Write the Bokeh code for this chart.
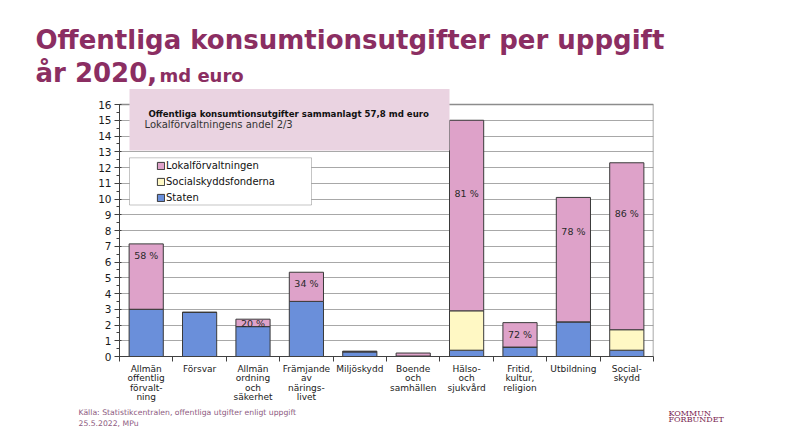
from bokeh.plotting import figure
from bokeh.layouts import column
from bokeh.models import (FactorRange, Range1d, LinearAxis, FixedTicker,
                          SingleIntervalTicker, Label, BoxAnnotation, Legend, LegendItem,
                          ColumnDataSource)
from bokeh.core.properties import value
from bokeh.embed import file_html
from bokeh.resources import INLINE

# ---------------- data ----------------
categories = ["Allmän offentlig förvaltning", "Försvar", "Allmän ordning och säkerhet",
              "Främjande av näringslivet", "Miljöskydd", "Boende och samhällen",
              "Hälso- och sjukvård", "Fritid, kultur, religion", "Utbildning", "Socialskydd"]
tick_labels = ["Allmän\noffentlig\nförvalt-\nning", "Försvar", "Allmän\nordning\noch\nsäkerhet",
               "Främjande\nav\nnärings-\nlivet", "Miljöskydd", "Boende\noch\nsamhällen",
               "Hälso-\noch\nsjukvård", "Fritid,\nkultur,\nreligion", "Utbildning", "Social-\nskydd"]
staten = [3.0, 2.8, 1.9, 3.5, 0.3, 0.03, 0.4, 0.6, 2.2, 0.4]
socialskyddsfonderna = [0.0, 0.0, 0.0, 0.0, 0.0, 0.0, 2.5, 0.0, 0.0, 1.3]
lokalforvaltningen = [4.15, 0.0, 0.47, 1.85, 0.04, 0.19, 12.1, 1.55, 7.9, 10.6]
series_names = ["Staten", "Socialskyddsfonderna", "Lokalförvaltningen"]
pct_index = [0, 2, 3, 6, 7, 8, 9]
pct_texts = ["58 %", "20 %", "34 %", "81 %", "72 %", "78 %", "86 %"]
pct_y = [6.41, 2.07, 4.65, 10.33, 1.37, 7.94, 9.06]

title1 = "Offentliga konsumtionsutgifter per uppgift"
title2a = "år 2020,"
title2b = "md euro"
note1 = "Offentliga konsumtionsutgifter sammanlagt 57,8 md euro"
note2 = "Lokalförvaltningens andel  2/3"
source1 = "Källa: Statistikcentralen,  offentliga utgifter enligt uppgift"
source2 = "25.5.2022, MPu"
logo1 = "KOMMUN"
logo2 = "FÖRBUNDET"

# ---------------- layout ----------------
W = 790
HEAD_H = 88           # header: page y 0..88
FL, FR, FT, FB = 119, 653, 88, 356   # main frame in page px (y=16 at page 104)
MAIN_BOTTOM = 405
FOOT_BOTTOM = 440
PX_PER_UNIT = (356 - 104) / 16.0
C_BLUE = "#6a8fda"
C_YEL = "#fff8c4"
C_PINK = "#dea2c9"
C_TITLE = "#8b2e62"
C_SRC = "#8d5a80"
N = len(categories)

def dx(px):
    return (px - FL) / ((FR - FL) / N)

def dy(py):
    return (FB - py) / PX_PER_UNIT

def mid(baseline, size):
    # vertical centre of a line of text whose baseline lies at page y `baseline`
    return baseline - 0.346 * size

def blank_figure(height, y_top, y_bottom):
    f = figure(width=W, height=height, x_range=Range1d(0, W), y_range=Range1d(y_bottom, y_top),
               output_backend="svg", toolbar_location=None,
               x_axis_location=None, y_axis_location=None, frame_align=False,
               min_border_left=0, min_border_right=0, min_border_top=0, min_border_bottom=0)
    f.grid.grid_line_color = None
    f.outline_line_color = None
    f.background_fill_color = "white"
    f.border_fill_color = "white"
    return f

# ---------------- header ----------------
head = blank_figure(HEAD_H, 0, HEAD_H)
head.add_layout(Label(x=35, y=mid(48, 26), text=title1, text_font="DejaVu Sans",
                      text_font_style="bold", text_font_size="26px", text_color=C_TITLE,
                      text_baseline="middle"))
head.add_layout(Label(x=35, y=mid(81, 26), text=title2a, text_font="DejaVu Sans",
                      text_font_style="bold", text_font_size="26px", text_color=C_TITLE,
                      text_baseline="middle"))
head.add_layout(Label(x=159, y=mid(81, 18), text=title2b, text_font="DejaVu Sans",
                      text_font_style="bold", text_font_size="18px", text_color=C_TITLE,
                      text_baseline="middle"))

# ---------------- main chart ----------------
p = figure(x_range=FactorRange(*categories), y_range=Range1d(0, dy(FT)),
           width=W, height=MAIN_BOTTOM - HEAD_H, output_backend="svg", toolbar_location=None,
           x_axis_location=None, y_axis_location="left", frame_align=False,
           min_border_left=FL, min_border_right=W - FR,
           min_border_top=0, min_border_bottom=MAIN_BOTTOM - FB)
p.background_fill_color = "white"
p.border_fill_color = "white"
p.outline_line_color = None
p.xgrid.grid_line_color = None
p.ygrid.grid_line_color = "#a8a8a8"
p.ygrid.ticker = FixedTicker(ticks=list(range(1, 17)))

yax = p.yaxis[0]
yax.bounds = (0, 16)
yax.ticker = SingleIntervalTicker(interval=1, num_minor_ticks=2)
yax.axis_line_color = "#404040"
yax.major_tick_line_color = "#404040"
yax.minor_tick_line_color = "#404040"
yax.major_tick_out = 5
yax.major_tick_in = 2
yax.minor_tick_out = 3
yax.minor_tick_in = 0
yax.major_label_text_font = "DejaVu Sans"
yax.major_label_text_font_size = "10.5px"
yax.major_label_text_color = "#1a1a1a"
yax.major_label_standoff = 3

# category axis: labels at bar centres, tick marks at category boundaries
centers = [i + 0.5 for i in range(N)]
xax = LinearAxis(ticker=FixedTicker(ticks=centers, minor_ticks=list(range(N + 1))))
xax.major_label_overrides = {c: t for c, t in zip(centers, tick_labels)}
xax.axis_line_color = "#404040"
xax.major_tick_line_color = None
xax.minor_tick_line_color = "#404040"
xax.minor_tick_out = 5
xax.minor_tick_in = 0
xax.major_tick_out = 5
xax.major_tick_in = 0
xax.major_label_text_font = "DejaVu Sans"
xax.major_label_text_font_size = "9px"
xax.major_label_text_color = "#1a1a1a"
xax.major_label_text_line_height = 0.95
xax.major_label_standoff = 2
xax.major_label_orientation = "horizontal"
p.add_layout(xax, "below")

# plot-area top and right border lines
p.segment(x0=[0, N], y0=[16, 0], x1=[N, N], y1=[16, 16], line_color="#8c8c8c", line_width=1.5)

src = ColumnDataSource(dict(x=categories, Staten=staten,
                            Socialskyddsfonderna=socialskyddsfonderna,
                            Lokalförvaltningen=lokalforvaltningen))
rs = p.vbar_stack(series_names, x="x", width=0.64, source=src,
                  color=[C_BLUE, C_YEL, C_PINK], line_color="#3a3a3a", line_width=1)

# percentage labels
p.text(x=[categories[i] for i in pct_index], y=pct_y, text=pct_texts, text_align="center",
       text_baseline="middle", text_font=value("DejaVu Sans"),
       text_font_size="9.5px", text_color="#2a2a2a")

# pink note box
note_box = BoxAnnotation(left=dx(129), right=dx(449), top=dy(88.5), bottom=dy(150),
                         fill_color="#ead3e1", fill_alpha=1.0, line_color=None, level="overlay")
p.add_layout(note_box)
p.add_layout(Label(x=dx(148), y=dy(mid(116.5, 8.6)), text=note1, text_font="DejaVu Sans",
                   text_font_style="bold", text_font_size="8.6px", text_color="#111111",
                   text_baseline="middle", level="overlay"))
p.add_layout(Label(x=dx(144), y=dy(mid(127.5, 10)), text=note2, text_font="DejaVu Sans",
                   text_font_size="10px", text_color="#333333",
                   text_baseline="middle", level="overlay"))

# legend box + legend
leg_box = BoxAnnotation(left=dx(129), right=dx(311), top=dy(157.3), bottom=dy(204.5),
                        fill_color="white", fill_alpha=1.0, line_color="#404040",
                        line_width=1, level="overlay")
p.add_layout(leg_box)
legend = Legend(items=[LegendItem(label=series_names[i], renderers=[rs[i]]) for i in (2, 1, 0)],
                location=(156 - FL, FB - 205), padding=0, margin=0, spacing=0,
                glyph_width=9, glyph_height=9, label_height=16, label_standoff=1,
                label_text_font="DejaVu Sans", label_text_font_size="10px",
                label_text_color="#111111", border_line_color=None,
                background_fill_alpha=0.0)
p.add_layout(legend, "center")

# ---------------- footer ----------------
foot = blank_figure(FOOT_BOTTOM - MAIN_BOTTOM, MAIN_BOTTOM, FOOT_BOTTOM)
foot.add_layout(Label(x=78, y=mid(415, 7.7), text=source1, text_font="DejaVu Sans",
                      text_font_size="7.7px", text_color=C_SRC, text_baseline="middle"))
foot.add_layout(Label(x=78, y=mid(426, 7.7), text=source2, text_font="DejaVu Sans",
                      text_font_size="7.7px", text_color=C_SRC, text_baseline="middle"))
foot.add_layout(Label(x=668, y=mid(415.5, 8), text=logo1, text_font="DejaVu Serif",
                      text_font_size="8px", text_color="#7a1f4f", text_baseline="middle"))
foot.add_layout(Label(x=668, y=mid(421.5, 8), text=logo2, text_font="DejaVu Serif",
                      text_font_size="8px", text_color="#7a1f4f", text_baseline="middle"))

layout = column(head, p, foot, spacing=0)
open("out.html", "w").write(file_html(layout, INLINE))
